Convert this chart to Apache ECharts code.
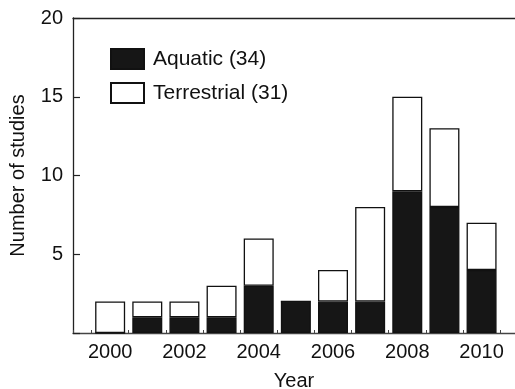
<!DOCTYPE html>
<html>
<head>
<meta charset="utf-8">
<script src="https://cdn.jsdelivr.net/npm/echarts@6/dist/echarts.min.js"></script>
<style>html,body{margin:0;padding:0;background:#fff;}#c{width:515px;height:389px;}</style>
</head>
<body>
<div id="c"></div>
<script>
const years = [2000, 2001, 2002, 2003, 2004, 2005, 2006, 2007, 2008, 2009, 2010];
const aquatic = [0, 1, 1, 1, 3, 2, 2, 2, 9, 8, 4];
const terrestrial = [2, 1, 1, 2, 3, 0, 2, 6, 6, 5, 3];
const seriesNames = ['Aquatic (34)', 'Terrestrial (31)'];
const yTicks = [0, 5, 10, 15, 20];
const xLabelYears = [2000, 2002, 2004, 2006, 2008, 2010];

const font = 'Liberation Sans, Arial, Helvetica, sans-serif';
// layout: year band width in px so bars (category grid) align with the value axis grid
const gLeft = 73, gTop = 18, gBottom = 56, W = 515;
const xMin = 1999, xMax = 2010.9;
const band = (W - gLeft) / (xMax - xMin);

const chart = echarts.init(document.getElementById('c'), null, {renderer: 'canvas'});
chart.setOption({
  animation: false,
  backgroundColor: '#fff',
  grid: [
    {left: gLeft, top: gTop, right: 0, bottom: gBottom, containLabel: false, outerBoundsMode: 'none'},
    {left: gLeft + band * (years[0] - xMin) - band / 2, top: gTop, width: band * years.length, bottom: gBottom, containLabel: false, outerBoundsMode: 'none'}
  ],
  legend: {
    orient: 'vertical', left: 110, top: 48, padding: 0, itemWidth: 33, itemHeight: 20, itemGap: 12,
    selectedMode: false,
    textStyle: {fontFamily: font, fontSize: 21, color: '#111', padding: [0, 0, 0, 4]},
    data: [
      {name: seriesNames[0], icon: 'rect'},
      {name: seriesNames[1], icon: 'rect'}
    ]
  },
  xAxis: [{
    gridIndex: 0, type: 'value', min: xMin, max: xMax, interval: 1,
    name: 'Year', nameLocation: 'middle', nameGap: 38,
    nameTextStyle: {fontFamily: font, fontSize: 20, color: '#111'},
    axisLine: {show: true, lineStyle: {color: '#444', width: 1.3}},
    axisTick: {show: true, inside: true, length: 3, lineStyle: {color: '#444', width: 1}},
    minorTick: {show: true, splitNumber: 2, length: 3, lineStyle: {color: '#444', width: 1}},
    splitLine: {show: false},
    axisLabel: {
      fontFamily: font, fontSize: 20, color: '#111', margin: 9,
      showMinLabel: true, showMaxLabel: false,
      formatter: function (v) { return xLabelYears.indexOf(v) >= 0 ? String(v) : ''; }
    }
  }, {
    gridIndex: 0, type: 'value', min: xMin, max: xMax, position: 'top',
    axisLine: {show: true, lineStyle: {color: '#222', width: 1.3}},
    axisTick: {show: false}, axisLabel: {show: false}, splitLine: {show: false}
  }, {
    gridIndex: 1, type: 'category', data: years.map(String), boundaryGap: true,
    show: false
  }],
  yAxis: [{
    gridIndex: 0, type: 'value', min: 0, max: 20, interval: 5,
    name: 'Number of studies', nameLocation: 'middle', nameGap: 45,
    nameTextStyle: {fontFamily: font, fontSize: 20, color: '#111'},
    axisLine: {show: true, lineStyle: {color: '#222', width: 1.3}},
    axisTick: {show: true, inside: true, length: 7, lineStyle: {color: '#222', width: 1.2}},
    splitLine: {show: false},
    axisLabel: {
      fontFamily: font, fontSize: 20, color: '#111', margin: 10,
      formatter: function (v) { return (v > 0 && yTicks.indexOf(v) >= 0) ? String(v) : ''; }
    }
  }, {
    gridIndex: 1, type: 'value', min: 0, max: 20, show: false
  }],
  series: [{
    name: seriesNames[0], type: 'bar', stack: 's', barWidth: 30,
    xAxisIndex: 2, yAxisIndex: 1,
    itemStyle: {color: '#161616', borderColor: '#111', borderWidth: 1.3},
    data: aquatic
  }, {
    name: seriesNames[1], type: 'bar', stack: 's', barWidth: 30,
    xAxisIndex: 2, yAxisIndex: 1,
    itemStyle: {color: '#ffffff', borderColor: '#111', borderWidth: 1.3},
    data: terrestrial
  }]
});
</script>
</body>
</html>
